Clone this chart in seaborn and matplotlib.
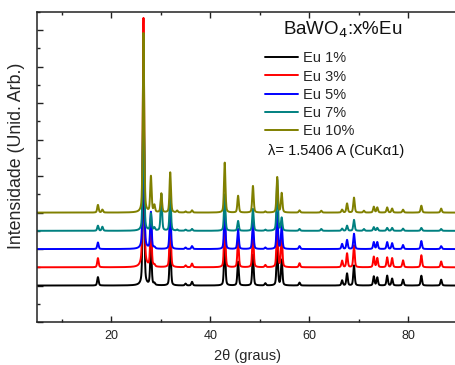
import numpy as np
import pandas as pd
import matplotlib
matplotlib.use("Agg")
import matplotlib.pyplot as plt
import seaborn as sns
from matplotlib.ticker import MultipleLocator
from matplotlib.lines import Line2D
from matplotlib.transforms import Affine2D

sns.set_style("ticks")
plt.rcParams['font.family'] = ['Liberation Sans', 'DejaVu Sans']

# ---- data ----
series_labels = ["Eu 1%", "Eu 3%", "Eu 5%", "Eu 7%", "Eu 10%"]
series_colors = ["#000000", "#FF0000", "#0000FF", "#008080", "#808000"]
offsets = [1.0, 1.5, 2.0, 2.5, 3.0]

peak_pos = [17.3, 18.2, 26.5, 28.0, 28.7, 30.1, 31.9, 33.3, 35.0, 36.3,
            42.9, 45.6, 48.6, 51.1, 53.5, 54.4, 58.0, 62.4, 66.6, 67.6,
            69.0, 71.0, 73.0, 73.7, 75.7, 76.7, 78.9, 82.6, 86.6]

h_eu1 = [0.23, 0.00, 5.00, 1.10, 0.05, 0.00, 1.20, 0.00, 0.05, 0.10,
         1.20, 0.65, 0.85, 0.06, 1.10, 0.70, 0.08, 0.00, 0.14, 0.33,
         0.55, 0.00, 0.25, 0.22, 0.27, 0.19, 0.16, 0.27, 0.16]
h_eu3 = [0.25, 0.00, 6.83, 1.30, 0.05, 0.00, 1.40, 0.00, 0.05, 0.10,
         1.40, 0.75, 1.00, 0.06, 1.30, 0.85, 0.11, 0.00, 0.18, 0.38,
         0.60, 0.00, 0.29, 0.25, 0.27, 0.25, 0.19, 0.33, 0.16]
h_eu5 = [0.18, 0.00, 4.50, 1.00, 0.04, 0.00, 1.10, 0.00, 0.04, 0.08,
         1.10, 0.55, 0.75, 0.04, 1.00, 0.65, 0.08, 0.00, 0.14, 0.25,
         0.42, 0.00, 0.19, 0.19, 0.19, 0.16, 0.11, 0.22, 0.08]
h_eu7 = [0.14, 0.11, 3.50, 0.46, 0.08, 1.00, 1.00, 0.03, 0.03, 0.05,
         1.00, 0.27, 0.60, 0.03, 1.40, 0.35, 0.05, 0.05, 0.06, 0.14,
         0.30, 0.05, 0.10, 0.08, 0.08, 0.08, 0.06, 0.08, 0.05]
h_eu10 = [0.21, 0.08, 4.92, 0.98, 0.19, 0.52, 1.10, 0.05, 0.03, 0.06,
          1.37, 0.46, 0.73, 0.03, 0.97, 0.53, 0.06, 0.05, 0.08, 0.25,
          0.41, 0.05, 0.16, 0.14, 0.14, 0.11, 0.08, 0.19, 0.11]
heights = [h_eu1, h_eu3, h_eu5, h_eu7, h_eu10]

x_ticks_major = [20, 40, 60, 80]

# ---- build diffraction profiles from the peak list ----
two_theta = np.arange(5.0, 90.0, 0.01)
fwhm = 0.34

def profile(pos, hts):
    y = np.zeros_like(two_theta)
    g = fwhm / 2.3548
    for p, h in zip(pos, hts):
        if h <= 0:
            continue
        gauss = np.exp(-0.5 * ((two_theta - p) / g) ** 2)
        lor = 1.0 / (1.0 + ((two_theta - p) / (fwhm / 2)) ** 2)
        y += h * (0.6 * gauss + 0.4 * lor)
    return y

frames = []
for lab, off, hts in zip(series_labels, offsets, heights):
    frames.append(pd.DataFrame({"2theta": two_theta,
                                "I": off + profile(peak_pos, hts),
                                "sample": lab}))
df = pd.concat(frames, ignore_index=True)

W, H = 455, 365
fig = plt.figure(figsize=(W / 100, H / 100), dpi=100)
ax = fig.add_axes([37 / W, 1 - 322 / H, (458 - 37) / W, (322 - 12) / H])

sns.lineplot(data=df, x="2theta", y="I", hue="sample",
             hue_order=series_labels, palette=series_colors,
             estimator=None, sort=False, linewidth=1.4, ax=ax, legend=False)

ax.set_xlim(5, 90)
ax.set_ylim(0, 8.5)
ax.set_xticks(x_ticks_major)
ax.xaxis.set_minor_locator(MultipleLocator(10))
ax.yaxis.set_major_locator(MultipleLocator(1))
ax.yaxis.set_minor_locator(MultipleLocator(0.5))
ax.set_yticklabels([])
ax.tick_params(axis="both", which="both", direction="in", top=True, right=False,
               width=1.0, colors="#222222", labelsize=9, labelcolor="#222222")
ax.tick_params(which="major", length=4.5)
ax.tick_params(which="minor", length=2.5)
ax.tick_params(axis="x", which="major", pad=6)
for s in ax.spines.values():
    s.set_linewidth(1.1)
    s.set_color("#222222")

ax.set_xlabel("2θ (graus)", fontsize=10.5, labelpad=5)
ax.set_ylabel("Intensidade (Unid. Arb.)", fontsize=12.8)
ax.yaxis.set_label_coords(-0.028, 0.535)

# pixel transform (origin top-left)
px = Affine2D().scale(1 / W, -1 / H).translate(0, 1) + fig.transFigure

fig.text(343, 30, "BaWO$_4$:x%Eu", transform=px, fontsize=13.5,
         ha="center", va="center", color="#111111")

handles = [Line2D([], [], color=c, lw=1.4) for c in series_colors]
leg = ax.legend(handles, series_labels, loc="upper left",
                bbox_to_anchor=(259, 45.5), bbox_transform=px, frameon=False,
                fontsize=10.5, handlelength=2.3, labelspacing=0.29,
                handletextpad=0.35, borderaxespad=0, borderpad=0.4)
fig.text(268, 151, "λ= 1.5406 A (CuKα1)", transform=px, fontsize=10.5,
         ha="left", va="center", color="#111111")

fig.savefig("out.png", dpi=100)
